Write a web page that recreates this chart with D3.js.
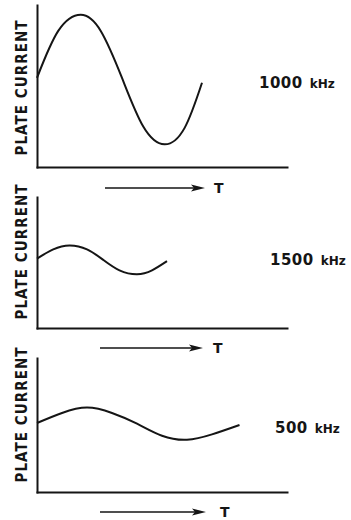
<!DOCTYPE html>
<html>
<head>
<meta charset="utf-8">
<script src="https://cdn.jsdelivr.net/npm/d3@7"></script>
<style>
  html, body { margin: 0; padding: 0; background: #fff; }
  svg { display: block; }
</style>
</head>
<body>
<div id="chart"></div>
<script>
// frequency of each panel (top to bottom)
var freqLabels = ["1000", "1500", "500"];
var unitLabel = "kHz";
var yLabel = "PLATE CURRENT";
var timeLabel = "T";

// plate current, time 0..100 along the axis, current 0..100 up the axis
var time1000 = [0, 8.5, 17.5, 25.5, 34, 42.5, 51, 59, 66];
var current1000 = [55, 84, 94, 84, 55, 25, 14, 24, 52];

var time1500 = [0, 6.5, 13, 20, 26.5, 33, 40, 46, 52];
var current1500 = [53, 60, 63, 60, 52, 44, 41, 44, 51];

var time500 = [0, 10, 20, 30, 40, 50, 60, 70, 81];
var current500 = [51.5, 59, 63, 59, 51, 42, 39, 43, 50];

var times = [time1000, time1500, time500];
var currents = [current1000, current1500, current500];

var width = 351, height = 520;
var left = 37, right = 287;

// where each panel sits
var layout = [
    {top: 5,   bottom: 167, labelX: 259, labelY: 88,  arrowY: 188, arrowX1: 105, arrowX2: 205, tX: 214, yMid: 88},
    {top: 197, bottom: 328, labelX: 270, labelY: 265, arrowY: 348, arrowX1: 100, arrowX2: 203, tX: 213, yMid: 252},
    {top: 358, bottom: 492, labelX: 275, labelY: 433, arrowY: 512, arrowX1: 100, arrowX2: 206, tX: 220, yMid: 415}
];

var ink = "#151515";

var svg = d3.select("#chart")
    .append("svg")
    .attr("width", width)
    .attr("height", height);

var x = d3.scaleLinear().domain([0, 100]).range([left, right]);

layout.forEach(function(p, i) {
    var y = d3.scaleLinear().domain([0, 100]).range([p.bottom, p.top]);
    var g = svg.append("g");

    // axes, no ticks
    g.append("g")
        .attr("transform", "translate(0," + p.bottom + ")")
        .call(d3.axisBottom(x).ticks(0).tickSizeOuter(0))
        .select(".domain")
        .attr("stroke", ink)
        .attr("stroke-width", 2)
        .attr("stroke-linecap", "square");

    g.append("g")
        .attr("transform", "translate(" + left + ",0)")
        .call(d3.axisLeft(y).ticks(0).tickSizeOuter(0))
        .select(".domain")
        .attr("stroke", ink)
        .attr("stroke-width", 2)
        .attr("stroke-linecap", "square");

    // the wave
    var pts = times[i].map(function(t, k) { return [t, currents[i][k]]; });
    var line = d3.line()
        .x(function(d) { return x(d[0]); })
        .y(function(d) { return y(d[1]); })
        .curve(d3.curveNatural);

    g.append("path")
        .datum(pts)
        .attr("d", line)
        .attr("fill", "none")
        .attr("stroke", ink)
        .attr("stroke-width", 2);

    // rotated axis title
    g.append("text")
        .attr("transform", "translate(27," + p.yMid + ") rotate(-90)")
        .attr("text-anchor", "middle")
        .attr("font-family", "'DejaVu Sans Condensed', 'DejaVu Sans', sans-serif")
        .attr("font-weight", "bold")
        .attr("font-size", "15px")
        .attr("textLength", 135)
        .attr("lengthAdjust", "spacing")
        .attr("fill", ink)
        .text(yLabel);

    // frequency label
    var lab = g.append("text")
        .attr("x", p.labelX)
        .attr("y", p.labelY)
        .attr("font-family", "'DejaVu Sans', sans-serif")
        .attr("fill", ink);
    lab.append("tspan")
        .attr("font-size", "15px")
        .attr("font-weight", "bold")
        .attr("letter-spacing", "0.5")
        .text(freqLabels[i]);
    lab.append("tspan")
        .attr("dx", 7)
        .attr("font-size", "12px")
        .attr("font-weight", "bold")
        .text(unitLabel);

    // time arrow
    g.append("line")
        .attr("x1", p.arrowX1)
        .attr("x2", p.arrowX2 - 8)
        .attr("y1", p.arrowY)
        .attr("y2", p.arrowY)
        .attr("stroke", ink)
        .attr("stroke-width", 1.6);

    g.append("path")
        .attr("d", "M" + p.arrowX2 + "," + p.arrowY +
            "L" + (p.arrowX2 - 14) + "," + (p.arrowY - 3.5) +
            "L" + (p.arrowX2 - 11) + "," + p.arrowY +
            "L" + (p.arrowX2 - 14) + "," + (p.arrowY + 3.5) + "Z")
        .attr("fill", ink);

    g.append("text")
        .attr("x", p.tX)
        .attr("y", p.arrowY + 5)
        .attr("font-family", "'DejaVu Sans', sans-serif")
        .attr("font-weight", "bold")
        .attr("font-size", "14px")
        .attr("fill", ink)
        .text(timeLabel);
});
</script>
</body>
</html>
